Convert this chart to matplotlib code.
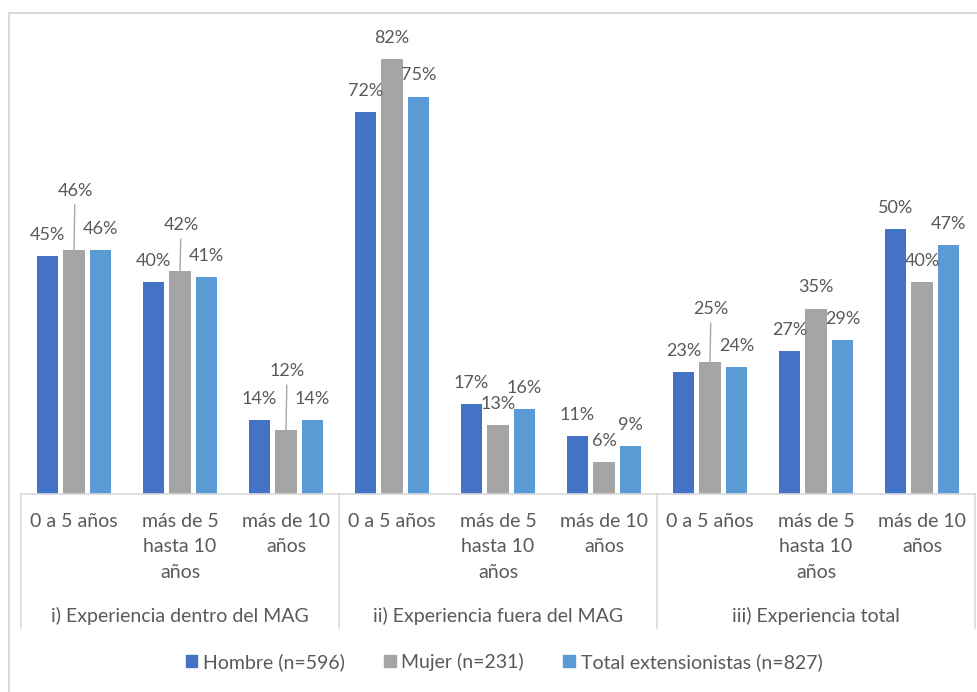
import matplotlib
matplotlib.use("Agg")
import matplotlib.pyplot as plt
from matplotlib.lines import Line2D
from matplotlib.patches import Patch, Rectangle
import numpy as np

# experience brackets (three per block) and the three blocks
CATEGORIES = ["0 a 5 años", "más de 5\nhasta 10\naños", "más de 10\naños"] * 3
GROUPS = ["i) Experiencia dentro del MAG",
          "ii) Experiencia fuera del MAG",
          "iii) Experiencia total"]

HOMBRE = [45, 40, 14, 72, 17, 11, 23, 27, 50]
MUJER  = [46, 42, 12, 82, 13, 6, 25, 35, 40]
TOTAL  = [46, 41, 14, 75, 16, 9, 24, 29, 47]

SERIES = ["Hombre (n=596)", "Mujer (n=231)", "Total extensionistas (n=827)"]
COLORS = ["#4472c4", "#a5a5a5", "#5b9bd5"]

TXT = "#595959"
GRID = "#d9d9d9"
W, H = 977, 692
FS = 14

plt.rcParams["font.family"] = ["Lato", "DejaVu Sans"]

fig = plt.figure(figsize=(W / 100, H / 100), dpi=100)


def fx(px):
    return px / W


def fy(py):
    return 1 - py / H


# outer frame (runs off the right / bottom edge)
fig.patches.append(Rectangle((fx(9), fy(H + 20)), fx(W + 20), fy(13) - fy(H + 20),
                             transform=fig.transFigure, fill=False,
                             edgecolor=GRID, lw=1.5))

x_left, x_right, y_base, y_top = 21, 975, 494, 17
ax = fig.add_axes([fx(x_left), fy(y_base), fx(x_right - x_left), fy(y_top) - fy(y_base)])

x = np.arange(len(CATEGORIES))
offsets = [-0.25, 0, 0.25]
width = 0.2
data = [HOMBRE, MUJER, TOTAL]

# gray labels pulled up with a leader line: index -> pixels above bar top
leader = {0: 59, 1: 46, 2: 59, 6: 52}

for s, (vals, col, off) in enumerate(zip(data, COLORS, offsets)):
    bars = ax.bar(x + off, np.array(vals) / 100, width=width, color=col, label=SERIES[s])
    for i, (b, v) in enumerate(zip(bars, vals)):
        bx = b.get_x() + b.get_width() / 2
        by = b.get_height()
        if s == 1 and i in leader:
            ax.annotate(f"{v}%", xy=(bx, by), xytext=(1, leader[i]),
                        textcoords="offset pixels", ha="center", va="center",
                        fontsize=13, color=TXT,
                        arrowprops=dict(arrowstyle="-", color="#a6a6a6", lw=1,
                                        shrinkA=2, shrinkB=0))
        else:
            ax.annotate(f"{v}%", xy=(bx, by), xytext=(0, 21),
                        textcoords="offset pixels", ha="center", va="center",
                        fontsize=13, color=TXT)

ax.set_xlim(-0.5, len(CATEGORIES) - 0.5)
ax.set_ylim(0, 0.9)
ax.set_yticks([])
ax.set_xticks([])
for side in ["left", "right", "top"]:
    ax.spines[side].set_visible(False)
ax.spines["bottom"].set_color(GRID)
ax.spines["bottom"].set_linewidth(1.2)

# category labels under each cluster
for i, lab in enumerate(CATEGORIES):
    px = x_left + (i + 0.5) * (x_right - x_left) / len(CATEGORIES)
    fig.text(fx(px), fy(513), lab, ha="center", va="top", fontsize=FS,
             color=TXT, linespacing=1.6)

# block labels and separators
for g, lab in enumerate(GROUPS):
    px = x_left + (3 * g + 1.5) * (x_right - x_left) / len(CATEGORIES)
    fig.text(fx(px), fy(616), lab, ha="center", va="center", fontsize=FS, color=TXT)
for k in range(4):
    px = x_left + 3 * k * (x_right - x_left) / len(CATEGORIES)
    fig.add_artist(Line2D([fx(px), fx(px)], [fy(494), fy(628)],
                          transform=fig.transFigure, color=GRID, lw=1.2))

handles = [Patch(color=c) for c in COLORS]
fig.legend(handles, SERIES, loc="center", bbox_to_anchor=(fx(504), fy(662)),
           ncol=3, frameon=False, fontsize=FS, handlelength=0.6, handleheight=0.6,
           handletextpad=0.3, columnspacing=2.0, labelcolor=TXT)

fig.savefig("out.png", dpi=100)
